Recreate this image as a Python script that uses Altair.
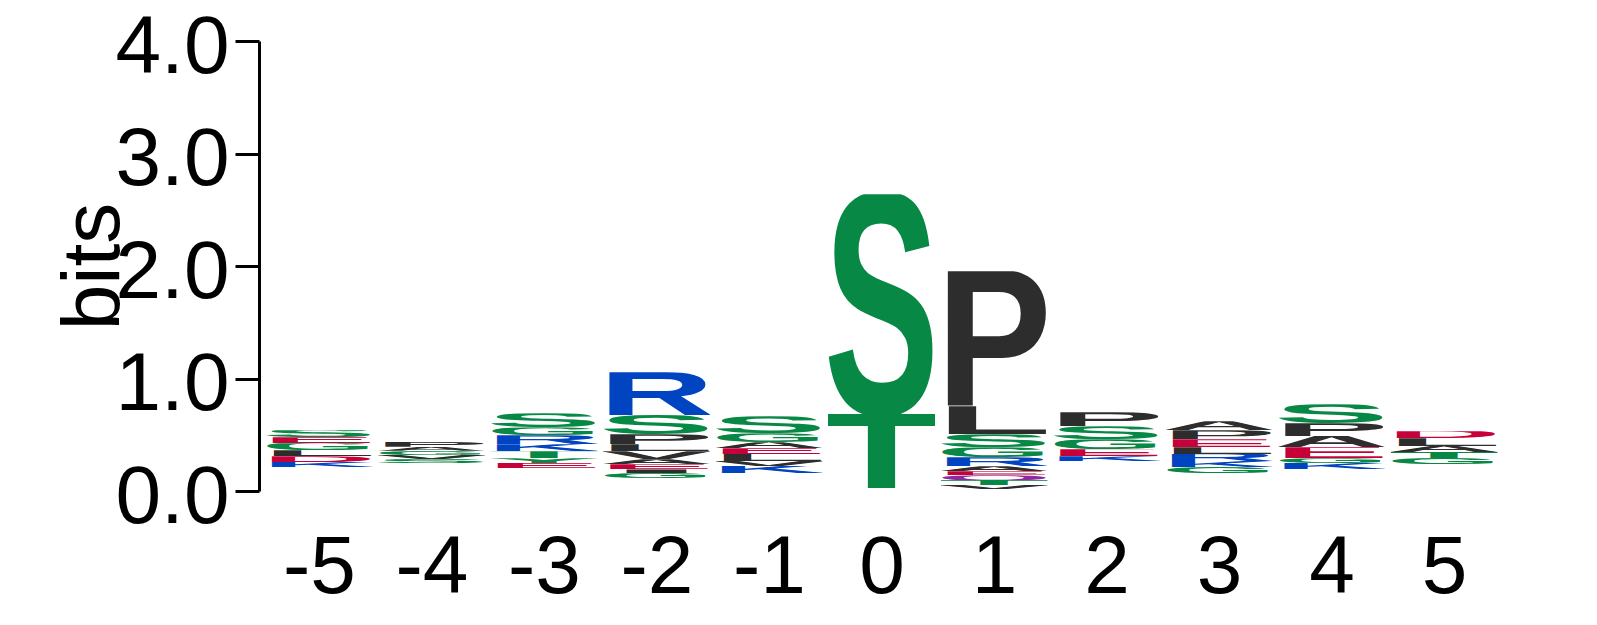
import urllib.parse
import altair as alt
import pandas as pd

positions = [-5, -4, -3, -2, -1, 0, 1, 2, 3, 4, 5]

# letters of each column listed top to bottom, with their heights in bits.
# "rare" = summed information of the residues too small to be drawn.
col_m5_letters = ["S", "E", "G", "L", "D", "K", "rare"]
col_m5_bits = [0.062, 0.053, 0.062, 0.053, 0.053, 0.044, 0.213]

col_m4_letters = ["P", "A", "G", "V", "S", "rare"]
col_m4_bits = [0.044, 0.036, 0.036, 0.036, 0.036, 0.249]

col_m3_letters = ["S", "G", "R", "K", "T", "Y", "E", "rare"]
col_m3_bits = [0.124, 0.071, 0.080, 0.062, 0.062, 0.044, 0.044, 0.204]

col_m2_letters = ["R", "S", "P", "L", "V", "A", "E", "I", "G", "rare"]
col_m2_bits = [0.380, 0.170, 0.090, 0.062, 0.071, 0.044, 0.044, 0.035, 0.044, 0.115]

col_m1_letters = ["S", "G", "A", "E", "L", "V", "K", "rare"]
col_m1_bits = [0.151, 0.080, 0.053, 0.053, 0.062, 0.044, 0.062, 0.160]

col_0_letters = ["S", "T", "rare"]
col_0_bits = [1.954, 0.657, 0.027]

col_p1_letters = ["P", "L", "S", "G", "R", "A", "E", "Q", "T", "V", "rare"]
col_p1_bits = [1.200, 0.249, 0.115, 0.089, 0.080, 0.044, 0.035, 0.044, 0.044, 0.035, 0.018]

col_p2_letters = ["P", "S", "G", "E", "K", "rare"]
col_p2_bits = [0.124, 0.115, 0.089, 0.062, 0.044, 0.266]

col_p3_letters = ["A", "P", "E", "L", "R", "K", "G", "rare"]
col_p3_bits = [0.080, 0.080, 0.071, 0.062, 0.062, 0.053, 0.053, 0.160]

col_p4_letters = ["S", "P", "A", "E", "G", "K", "rare"]
col_p4_bits = [0.169, 0.115, 0.098, 0.098, 0.044, 0.053, 0.195]

col_p5_letters = ["D", "L", "A", "T", "G", "rare"]
col_p5_bits = [0.062, 0.071, 0.053, 0.053, 0.053, 0.240]

columns = [
    (col_m5_letters, col_m5_bits), (col_m4_letters, col_m4_bits),
    (col_m3_letters, col_m3_bits), (col_m2_letters, col_m2_bits),
    (col_m1_letters, col_m1_bits), (col_0_letters, col_0_bits),
    (col_p1_letters, col_p1_bits), (col_p2_letters, col_p2_bits),
    (col_p3_letters, col_p3_bits), (col_p4_letters, col_p4_bits),
    (col_p5_letters, col_p5_bits),
]

# chemistry colour scheme
chem_colors = {
    "#078945": "GSTYC",
    "#8B2B9E": "QN",
    "#0044C1": "KRH",
    "#C8003A": "DE",
    "#2D2D2D": "AVLIPWFM",
}
letter_color = {aa: c for c, group in chem_colors.items() for aa in group}

FONT = "Liberation Sans"


def glyph_url(letter):
    if letter == "rare":
        return ""
    svg = (
        "<svg xmlns='http://www.w3.org/2000/svg' width='100' height='100' "
        "viewBox='0 0 100 100' preserveAspectRatio='none'>"
        "<text x='50' y='100' text-anchor='middle' "
        "font-family='Liberation Sans, Arial, Helvetica, sans-serif' font-weight='bold' "
        "font-size='145.3' textLength='108' lengthAdjust='spacingAndGlyphs' "
        f"fill='{letter_color[letter]}'>{letter}</text></svg>"
    )
    return "data:image/svg+xml;charset=utf-8," + urllib.parse.quote(svg)


rows = []
for pos, (letters, bits) in zip(positions, columns):
    # bottom of the stack first
    for k, (aa, b) in enumerate(reversed(list(zip(letters, bits)))):
        rows.append({"pos": pos, "aa": aa, "bits": b, "k": k, "url": glyph_url(aa)})
df = pd.DataFrame(rows)

chart = (
    alt.Chart(df)
    .transform_stack(
        stack="bits",
        groupby=["pos"],
        sort=[alt.SortField("k", order="ascending")],
        as_=["b0", "b1"],
    )
    .transform_filter("datum.aa != 'rare'")
    .transform_calculate(xl="datum.pos - 0.475", xr="datum.pos + 0.475")
    .mark_image(aspect=False)
    .encode(
        x=alt.X(
            "xl:Q",
            scale=alt.Scale(domain=[-5.533, 5.533], nice=False, zero=False),
            axis=alt.Axis(
                values=positions,
                labelExpr="'' + datum.value",
                title=None,
                domain=False,
                ticks=False,
                tickSize=0,
                grid=False,
                labelFont=FONT,
                labelFontSize=82,
                labelColor="black",
                labelPadding=36,
                labelFlush=False,
                labelOverlap=False,
            ),
        ),
        x2="xr:Q",
        y=alt.Y(
            "b0:Q",
            scale=alt.Scale(domain=[0, 4], nice=False),
            axis=alt.Axis(
                values=[0, 1, 2, 3, 4],
                format=".1f",
                title="bits",
                titleFont=FONT,
                titleFontSize=82,
                titleFontWeight="normal",
                titleColor="black",
                titleAngle=270,
                titleAlign="center",
                titleBaseline="alphabetic",
                titleX=-141,
                titleY=225,
                grid=False,
                domainColor="black",
                domainWidth=3,
                tickColor="black",
                tickWidth=3,
                tickSize=24,
                labelFont=FONT,
                labelFontSize=82,
                labelColor="black",
                labelPadding=6,
                labelOffset=6,
                labelFlush=False,
                labelOverlap=False,
            ),
        ),
        y2="b1:Q",
        url="url:N",
    )
    .properties(
        width=1245,
        height=450,
        autosize="none",
        padding={"left": 251, "top": 33, "right": 10, "bottom": 120},
    )
    .configure_view(strokeWidth=0)
)

chart.save("out.html", embed_options={"renderer": "svg", "actions": False})
